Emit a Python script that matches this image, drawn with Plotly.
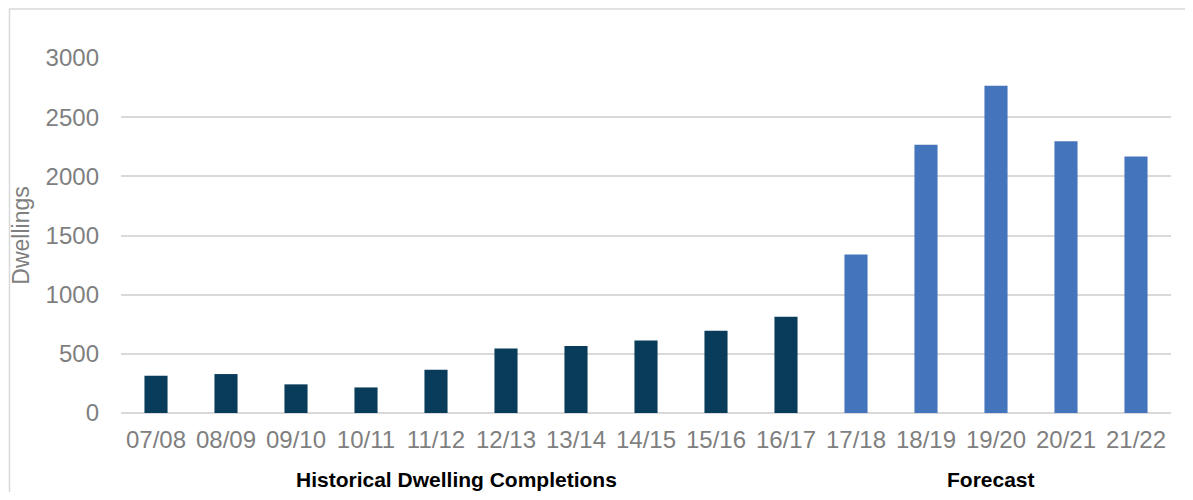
import plotly.graph_objects as go

# financial years and completions
hist_years = ['07/08', '08/09', '09/10', '10/11', '11/12', '12/13', '13/14', '14/15', '15/16', '16/17']
hist_values = [315, 329, 242, 216, 366, 546, 566, 613, 695, 813]

fc_years = ['17/18', '18/19', '19/20', '20/21', '21/22']
fc_values = [1339, 2266, 2766, 2297, 2167]

all_years = hist_years + fc_years

fig = go.Figure()

fig.add_trace(go.Bar(x=hist_years, y=hist_values, marker_color='#083c5a',
                     marker_line_width=0, width=0.33, name='Historical'))
fig.add_trace(go.Bar(x=fc_years, y=fc_values, marker_color='#4474bc',
                     marker_line_width=0, width=0.33, name='Forecast'))

# page body has an 8px margin: shrink the figure so it fits without scrollbars
fig.update_layout(
    width=1177, height=484,
    margin=dict(l=113, r=14, t=50, b=79),
    plot_bgcolor='white', paper_bgcolor='white',
    showlegend=False,
    font=dict(family='Liberation Sans, Arial, sans-serif', color='#7f7f7f'),
)

fig.update_xaxes(categoryorder='array', categoryarray=all_years,
                 tickfont=dict(size=24, color='#7f7f7f'),
                 showgrid=False, showline=False, ticks='',
                 ticklabelstandoff=10)
fig.update_yaxes(range=[0, 3000], dtick=500,
                 tickfont=dict(size=24, color='#7f7f7f'),
                 gridcolor='#d9d9d9', gridwidth=1.5,
                 zeroline=True, zerolinecolor='#d9d9d9', zerolinewidth=1.5,
                 title=dict(text='Dwellings', font=dict(size=23, color='#7f7f7f'), standoff=10),
                 ticklabelstandoff=21)

# group labels under the category axis
fig.add_annotation(x=4.29, y=-0.188, xref='x', yref='paper', yanchor='middle',
                   text='<b>Historical Dwelling Completions</b>', showarrow=False,
                   font=dict(size=21, color='black'))
fig.add_annotation(x=11.93, y=-0.188, xref='x', yref='paper', yanchor='middle',
                   text='<b>Forecast</b>', showarrow=False,
                   font=dict(size=21, color='black'))

# outer chart border (right and bottom edges fall off the page)
fig.add_shape(type='rect', xref='paper', yref='paper',
              x0=-0.1062, x1=1.1, y0=-0.4, y1=1.138,
              line=dict(color='#d9d9d9', width=1.5), layer='below')

fig.write_html("out.html")
